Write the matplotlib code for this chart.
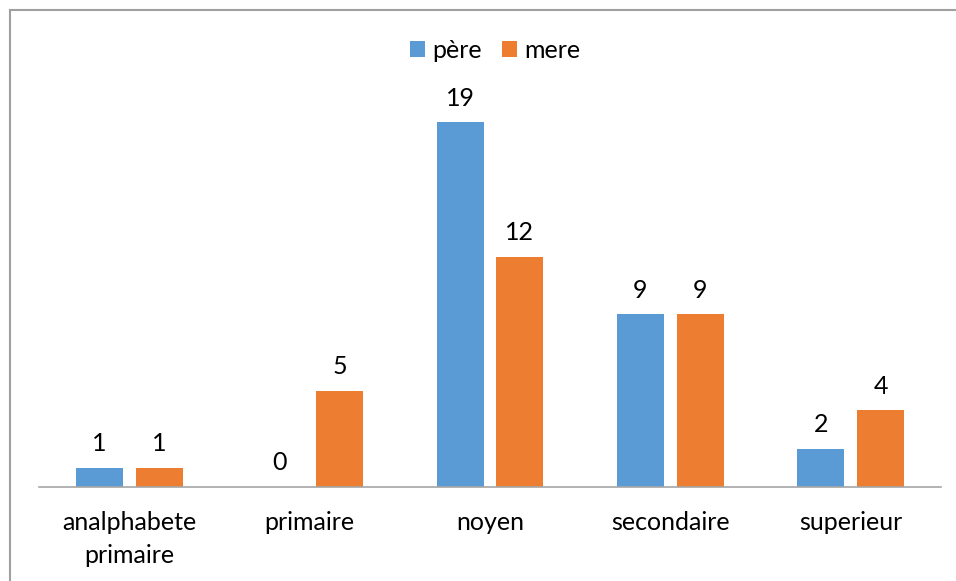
import matplotlib
matplotlib.use("Agg")
import matplotlib.pyplot as plt
import numpy as np
from matplotlib.lines import Line2D

categories = ["analphabete\nprimaire", "primaire", "noyen", "secondaire", "superieur"]
pere = [1, 0, 19, 9, 2]
mere = [1, 5, 12, 9, 4]
series_names = ["père", "mere"]

plt.rcParams['font.family'] = ['Lato', 'DejaVu Sans']
FS = 18

fig = plt.figure(figsize=(9.56, 5.81), dpi=100)
ax = fig.add_axes([39/956, 94/581, 902/956, (487-103)/581])

x = np.arange(len(categories))
w = 0.26
off = 0.166
b1 = ax.bar(x - off, pere, w, color="#5B9BD5", label=series_names[0])
b2 = ax.bar(x + off, mere, w, color="#ED7D31", label=series_names[1])

for bars, vals in ((b1, pere), (b2, mere)):
    for r, v in zip(bars, vals):
        ax.annotate(str(v), (r.get_x() + r.get_width()/2, v), xytext=(0, 9),
                    textcoords="offset points", ha="center", va="bottom",
                    fontsize=FS, color="#000000")

ax.set_xlim(-0.5, len(categories) - 0.5)
ax.set_ylim(0, 20)
ax.set_yticks([])
ax.set_xticks(x)
ax.set_xticklabels(categories, fontsize=FS, color="#000000", linespacing=1.55)
ax.tick_params(axis="x", length=0, pad=17)
for s in ("left", "right", "top"):
    ax.spines[s].set_visible(False)
ax.spines["bottom"].set_color("#A6A6A6")
ax.spines["bottom"].set_linewidth(1.2)

leg = fig.legend(loc="center", bbox_to_anchor=(495/956, 1 - 50/581), ncol=2,
                 frameon=False, fontsize=FS, handlelength=0.6, handleheight=0.6,
                 handletextpad=0.3, columnspacing=0.8)

# outer border (left and top)
fig.add_artist(Line2D([10/956, 10/956], [0, 1 - 10/581], color="#A0A0A0", lw=1.5, transform=fig.transFigure))
fig.add_artist(Line2D([10/956, 1], [1 - 10/581, 1 - 10/581], color="#A0A0A0", lw=1.5, transform=fig.transFigure))

fig.savefig("out.png", dpi=100)
